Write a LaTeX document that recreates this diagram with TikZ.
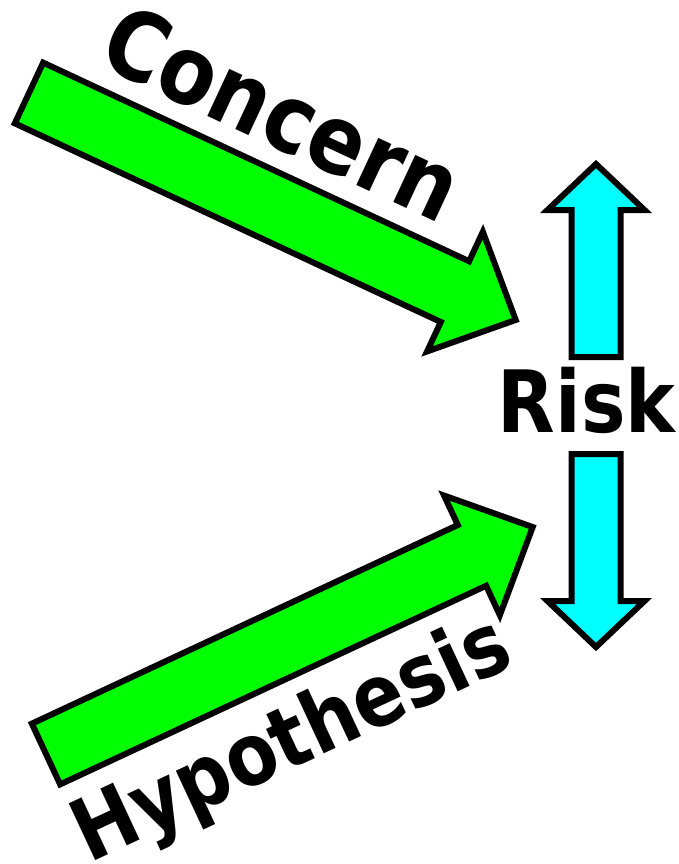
\documentclass[tikz,border=0pt]{standalone}
\usepackage{fontspec}
\newfontfamily\labelfont{DejaVu Sans}[FakeStretch=0.87]
\usetikzlibrary{positioning}
\definecolor{arrowgreen}{RGB}{0,255,0}
\definecolor{arrowcyan}{RGB}{0,255,255}
\tikzset{%
  block arrow/.style={draw=black, line width=6pt, line join=miter},
  green arrow/.style={block arrow, fill=arrowgreen},
  cyan arrow/.style={block arrow, fill=arrowcyan},
  word/.style={inner sep=0pt, font=\labelfont\bfseries\fontsize{86}{86}\selectfont},
  big word/.style={word, font=\labelfont\bfseries\fontsize{95}{95}\selectfont}
}

\begin{document}
\begin{tikzpicture}[x=1pt, y=-1pt]
  \useasboundingbox (0,0) rectangle (679,864);

  % the two green arrows
  \foreach \tx/\ty/\ang in {29/93/-25, 46/754/25}{
    \begin{scope}[shift={(\tx,\ty)}, rotate=\ang]
      \draw[green arrow] (0,-33.5) -- (470,-33.5) -- (470,-66) -- (537,0)
        -- (470,66) -- (470,33.5) -- (0,33.5) -- cycle;
    \end{scope}
  }

  % up and down arrows
  \draw[cyan arrow] (571.5,357) -- (571.5,210) -- (547.5,210) -- (596,164)
    -- (644.5,210) -- (620.5,210) -- (620.5,357) -- cycle;
  \draw[cyan arrow] (571.5,454) -- (571.5,601) -- (547.5,601) -- (596,647)
    -- (644.5,601) -- (620.5,601) -- (620.5,454) -- cycle;

  \node[big word, rotate=-25, anchor=base] (concern) at (268,144) {Concern};
  \node[word, rotate=25, anchor=base] (hypothesis) at (303,764) {Hypothesis};
  \node[word, anchor=base] (risk) at (586.5,432) {Risk};
\end{tikzpicture}
\end{document}
